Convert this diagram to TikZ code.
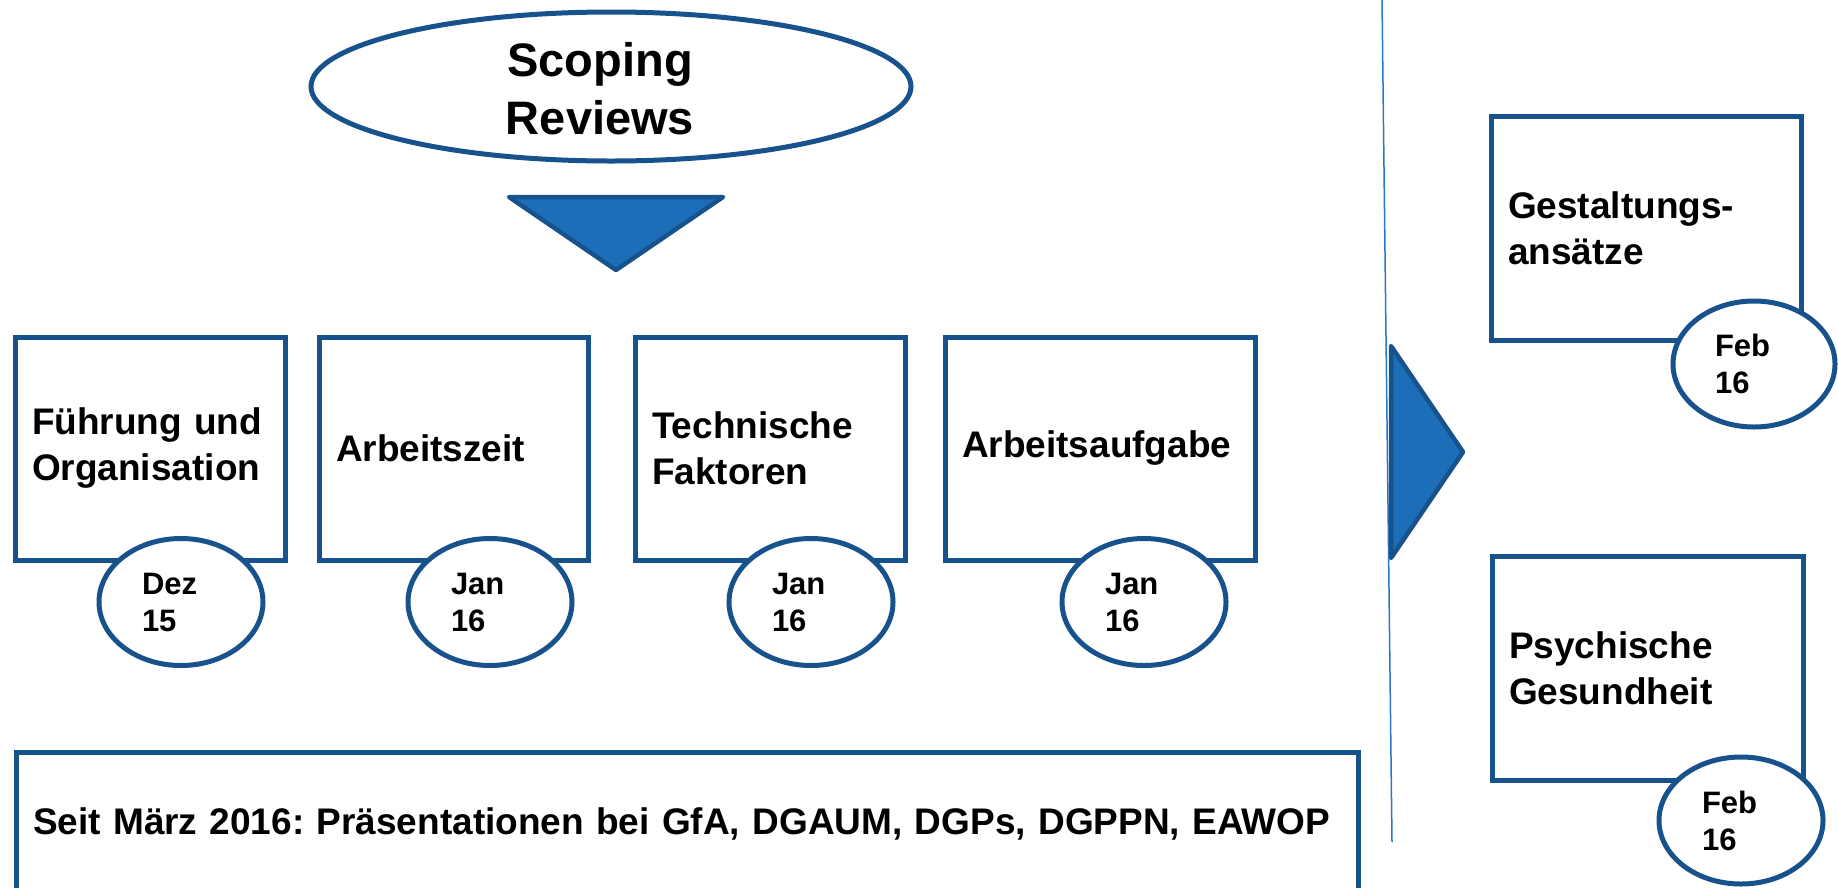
\documentclass[tikz,border=0pt]{standalone}
\usepackage{fontspec}
\setmainfont{Liberation Sans}
\usetikzlibrary{shapes.geometric}
\definecolor{bordblue}{RGB}{24,82,140}
\definecolor{fillblue}{RGB}{27,110,183}
\definecolor{lineblue}{RGB}{40,120,200}
\frenchspacing
\begin{document}
\begin{tikzpicture}[x=1pt,y=-1pt,
  box/.style={draw=bordblue, line width=5pt, fill=white, rectangle, inner xsep=17pt, inner ysep=0pt, align=left, font=\fontsize{37}{46}\selectfont\bfseries},
  datebubble/.style={draw=bordblue, line width=5pt, fill=white, ellipse, inner sep=0pt, minimum width=164pt, minimum height=127pt, text width=78pt, align=left, font=\fontsize{31}{37}\selectfont\bfseries},
  arrowtri/.style={draw=bordblue, fill=fillblue, line width=4.5pt, line join=round}
]
\useasboundingbox (0,0) rectangle (1838,887);
\clip (0,0) rectangle (1838,887);

% top ellipse
\node[draw=bordblue, line width=5pt, ellipse, minimum width=600pt, minimum height=149pt, inner sep=0pt] (scoping) at (611,86.5) {};
\node[font=\fontsize{47}{58}\selectfont\bfseries, align=center, inner sep=0pt] (scopingtext) at (600,88.75) {Scoping\\Reviews};

% down arrow triangle
\coordinate (tl) at (509,197);
\coordinate (tr) at (723,197);
\coordinate (tb) at (616,270);
\draw[arrowtri] (tl) -- (tr) -- (tb) -- cycle;

% row boxes
\node[box, minimum width=270pt, minimum height=223pt, text width=236pt] (fuehrung) at (150,448.5) {Führung und\\Organisation};
\node[box, minimum width=269pt, minimum height=223pt, text width=235pt] (arbeitszeit) at (453.5,448.5) {Arbeitszeit};
\node[box, minimum width=270pt, minimum height=223pt, text width=236pt] (technik) at (770,448.5) {Technische\\Faktoren};
\node[box, minimum width=310pt, minimum height=223pt, text width=276pt] (aufgabe) at (1100,448.5) {Arbeitsaufgabe};

% right boxes
\node[box, minimum width=310pt, minimum height=224pt, text width=276pt] (gestaltung) at (1646,228) {Gestaltungs-\\ansätze};
\node[box, minimum width=311pt, minimum height=224pt, text width=277pt] (psyche) at (1647.5,668) {Psychische\\Gesundheit};

% bottom box
\node[box, minimum width=1342pt, minimum height=143pt, text width=1308pt] (praes) at (687,823.5) {Seit März 2016: Präsentationen bei GfA, DGAUM, DGPs, DGPPN, EAWOP};

% date bubbles
\node[datebubble] (d1) at (181,602) {Dez\\15};
\node[datebubble] (d2) at (490,602) {Jan\\16};
\node[datebubble] (d3) at (811,602) {Jan\\16};
\node[datebubble] (d4) at (1144,602) {Jan\\16};
\node[datebubble, minimum width=162pt, minimum height=126pt] (d5) at (1754,364) {Feb\\16};
\node[datebubble] (d6) at (1741,820.5) {Feb\\16};

% vertical divider and right arrow
\coordinate (vtop) at (1382,0);
\coordinate (vbot) at (1392,842);
\draw[lineblue, line width=1.5pt] (vtop) -- (vbot);
\coordinate (rt) at (1391,346);
\coordinate (rp) at (1463,452);
\coordinate (rb) at (1391,558);
\draw[arrowtri] (rt) -- (rp) -- (rb) -- cycle;
\end{tikzpicture}
\end{document}
